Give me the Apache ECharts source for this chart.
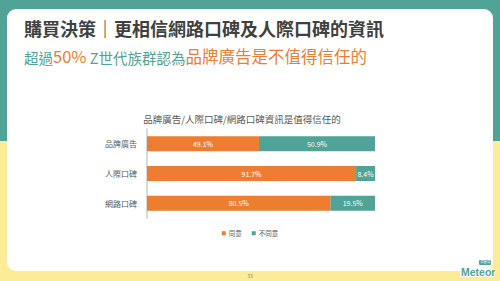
<!DOCTYPE html>
<html>
<head>
<meta charset="utf-8">
<script src="https://cdn.jsdelivr.net/npm/echarts@6/dist/echarts.min.js"></script>
<style>
html,body{margin:0;padding:0;background:#fff;}
#c{width:500px;height:281px;}
</style>
</head>
<body>
<div id="c"></div>
<script>
var categories = ['品牌廣告', '人際口碑', '網路口碑'];
var agreeValues = [49.1, 91.7, 80.5];
var disagreeValues = [50.9, 8.4, 19.5];
var seriesNames = ['同意', '不同意'];
var headingText = '購買決策｜更相信網路口碑及人際口碑的資訊';
var chartTitle = '品牌廣告/人際口碑/網路口碑資訊是值得信任的';
var pageNumber = '33';

var FONT = '"Noto Sans CJK TC", "Noto Sans CJK SC", sans-serif';
var ORANGE = '#ED7D31';
var TEAL = '#4FA397';
var YELLOW = '#FCEC98';

var chart = echarts.init(document.getElementById('c'), null, {renderer: 'svg'});
chart.setOption({
  backgroundColor: '#ffffff',
  animation: false,
  textStyle: {fontFamily: FONT},
  graphic: [
    {type: 'rect', z: -10, shape: {x: 0, y: 0, width: 500, height: 141}, style: {fill: TEAL}, silent: true},
    {type: 'rect', z: -10, shape: {x: 0, y: 141, width: 500, height: 140}, style: {fill: YELLOW}, silent: true},
    {type: 'rect', z: -9, shape: {x: 7, y: 9, width: 486, height: 262, r: 9}, style: {fill: '#ffffff'}, silent: true},
    {type: 'text', z: 5, left: 24, top: 19, style: {text: headingText, font: 'bold 18px ' + FONT, fill: '#404040'}},
    {type: 'text', z: 5, left: 24, top: 48,
      style: {
        text: '{t|超過}{o|50%}{t| Z世代族群認為}{o|品牌廣告是不值得信任的}',
        rich: {
          t: {fontSize: 14.5, fill: TEAL, fontFamily: FONT, verticalAlign: 'bottom', lineHeight: 20},
          o: {fontSize: 16.5, fill: ORANGE, fontFamily: FONT, verticalAlign: 'bottom', lineHeight: 20}
        }
      }
    },
    {type: 'text', z: 5, left: 'center', top: 273, style: {text: pageNumber, font: '5px ' + FONT, fill: '#7f7f7f'}},
    {type: 'text', z: 6, left: 460, top: 265, style: {text: 'Meteor', font: 'bold 10.5px "Liberation Sans", sans-serif', fill: TEAL, stroke: '#ffffff', lineWidth: 2}},
    {type: 'rect', z: 6, shape: {x: 479, y: 260, width: 12, height: 5, r: 1}, style: {fill: TEAL}},
    {type: 'text', z: 7, left: 480, top: 260, style: {text: '流星球', font: '3.5px ' + FONT, fill: '#ffffff'}}
  ],
  title: {
    text: chartTitle,
    left: 237, textAlign: 'center', top: 109,
    textStyle: {fontSize: 9.5, fontWeight: 'normal', color: '#595959', fontFamily: FONT}
  },
  legend: {
    data: seriesNames,
    left: 'center', top: 225,
    itemWidth: 4, itemHeight: 4, itemGap: 10,
    icon: 'rect',
    textStyle: {fontSize: 6.5, color: '#595959', fontFamily: FONT, padding: [0, 0, 0, -2]}
  },
  grid: {left: 147, right: 125, top: 129, bottom: 63, containLabel: false},
  xAxis: {
    type: 'value', min: 0, max: 100,
    show: false,
    splitLine: {show: false}
  },
  yAxis: {
    type: 'category', data: categories, inverse: true,
    axisLine: {show: true, lineStyle: {color: '#d9d9d9', width: 2}},
    axisTick: {show: false},
    axisLabel: {fontSize: 8, color: '#595959', margin: 10, fontFamily: FONT}
  },
  series: [
    {
      name: seriesNames[0], type: 'bar', stack: 'a', data: agreeValues,
      barWidth: 15, itemStyle: {color: ORANGE},
      label: {show: true, position: 'inside', formatter: '{c}%', color: '#ffffff', fontSize: 7, fontFamily: FONT}
    },
    {
      name: seriesNames[1], type: 'bar', stack: 'a', data: disagreeValues,
      barWidth: 15, itemStyle: {color: TEAL},
      label: {show: true, position: 'inside', formatter: '{c}%', color: '#ffffff', fontSize: 7, fontFamily: FONT}
    }
  ]
});
</script>
</body>
</html>
